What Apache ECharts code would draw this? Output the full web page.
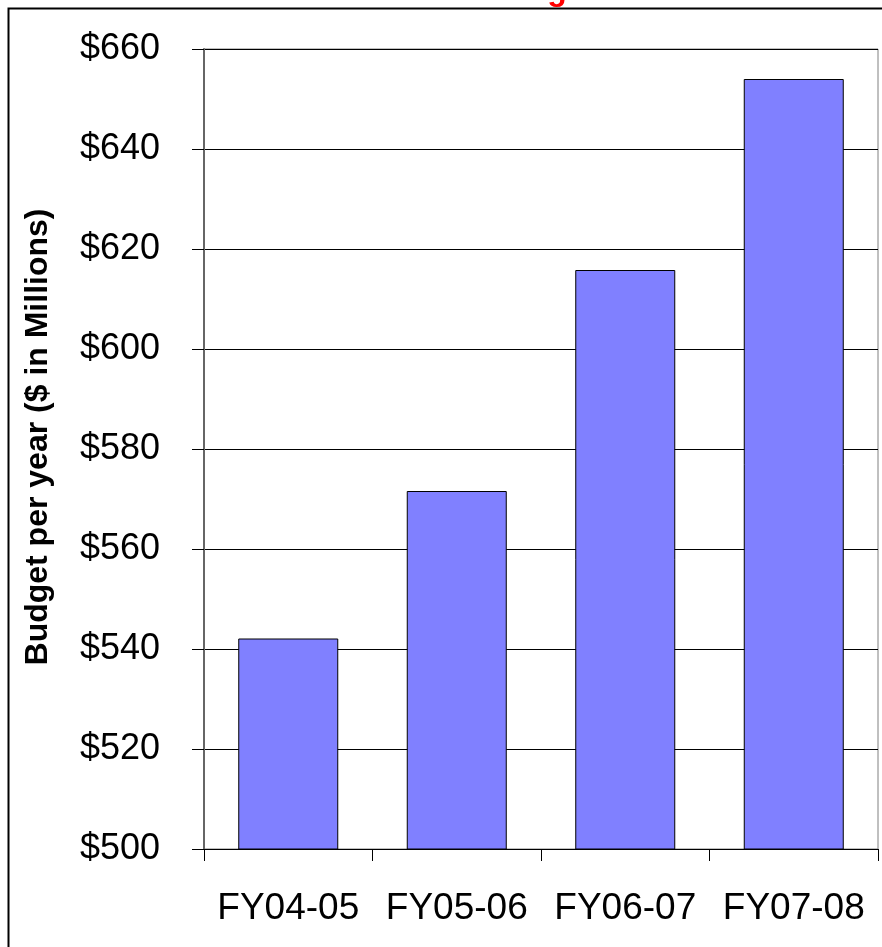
<!DOCTYPE html>
<html><head><meta charset="utf-8">
<script src="https://cdn.jsdelivr.net/npm/echarts@6/dist/echarts.min.js"></script>
<style>html,body{margin:0;padding:0;background:#fff}#c{width:882px;height:947px}</style>
</head><body><div id="c"></div>
<script>
const categories = ['FY04-05', 'FY05-06', 'FY06-07', 'FY07-08'];
const budgetValues = [542.1, 571.6, 615.8, 654.0];
const yAxisName = 'Budget per year ($ in Millions)';
const titleText = 'Budget';

const chart = echarts.init(document.getElementById('c'), null, {renderer: 'canvas'});
chart.setOption({
  animation: false,
  backgroundColor: '#fff',
  title: {
    text: titleText, left: 480, top: -30,
    textStyle: {color: '#ff0000', fontFamily: 'Liberation Sans, Arial', fontWeight: 'bold', fontSize: 32}
  },
  graphic: [{
    type: 'rect', left: 6, top: 6, z: -1,
    shape: {width: 900, height: 1000},
    style: {fill: 'none', stroke: '#000', lineWidth: 2}
  }],
  grid: {left: 204, right: 4, top: 49, bottom: 98, show: true, borderColor: '#808080', borderWidth: 1, backgroundColor: 'transparent'},
  xAxis: {
    type: 'category', data: categories,
    axisLine: {lineStyle: {color: '#000', width: 1}},
    axisTick: {show: true, length: 12, interval: 0, alignWithLabel: false, lineStyle: {color: '#000'}},
    axisLabel: {color: '#000', fontFamily: 'Liberation Sans, Arial', fontSize: 37, margin: 41, interval: 0}
  },
  yAxis: {
    type: 'value', min: 500, max: 660, interval: 20,
    name: yAxisName, nameLocation: 'middle', nameGap: 150,
    nameTextStyle: {color: '#000', fontFamily: 'Liberation Sans, Arial', fontWeight: 'bold', fontSize: 32,
      padding: [0, 0, 0, 24]},
    axisLine: {show: true, lineStyle: {color: '#666', width: 2}},
    axisTick: {show: true, length: 12, lineStyle: {color: '#000'}},
    splitLine: {show: true, lineStyle: {color: '#000', width: 1}},
    axisLabel: {color: '#000', fontFamily: 'Liberation Sans, Arial', fontSize: 36, margin: 44,
      formatter: v => '$' + v}
  },
  series: [{
    type: 'bar', data: budgetValues, barWidth: 100,
    itemStyle: {color: '#8080ff', borderColor: '#000', borderWidth: 1}
  }]
});
</script></body></html>
